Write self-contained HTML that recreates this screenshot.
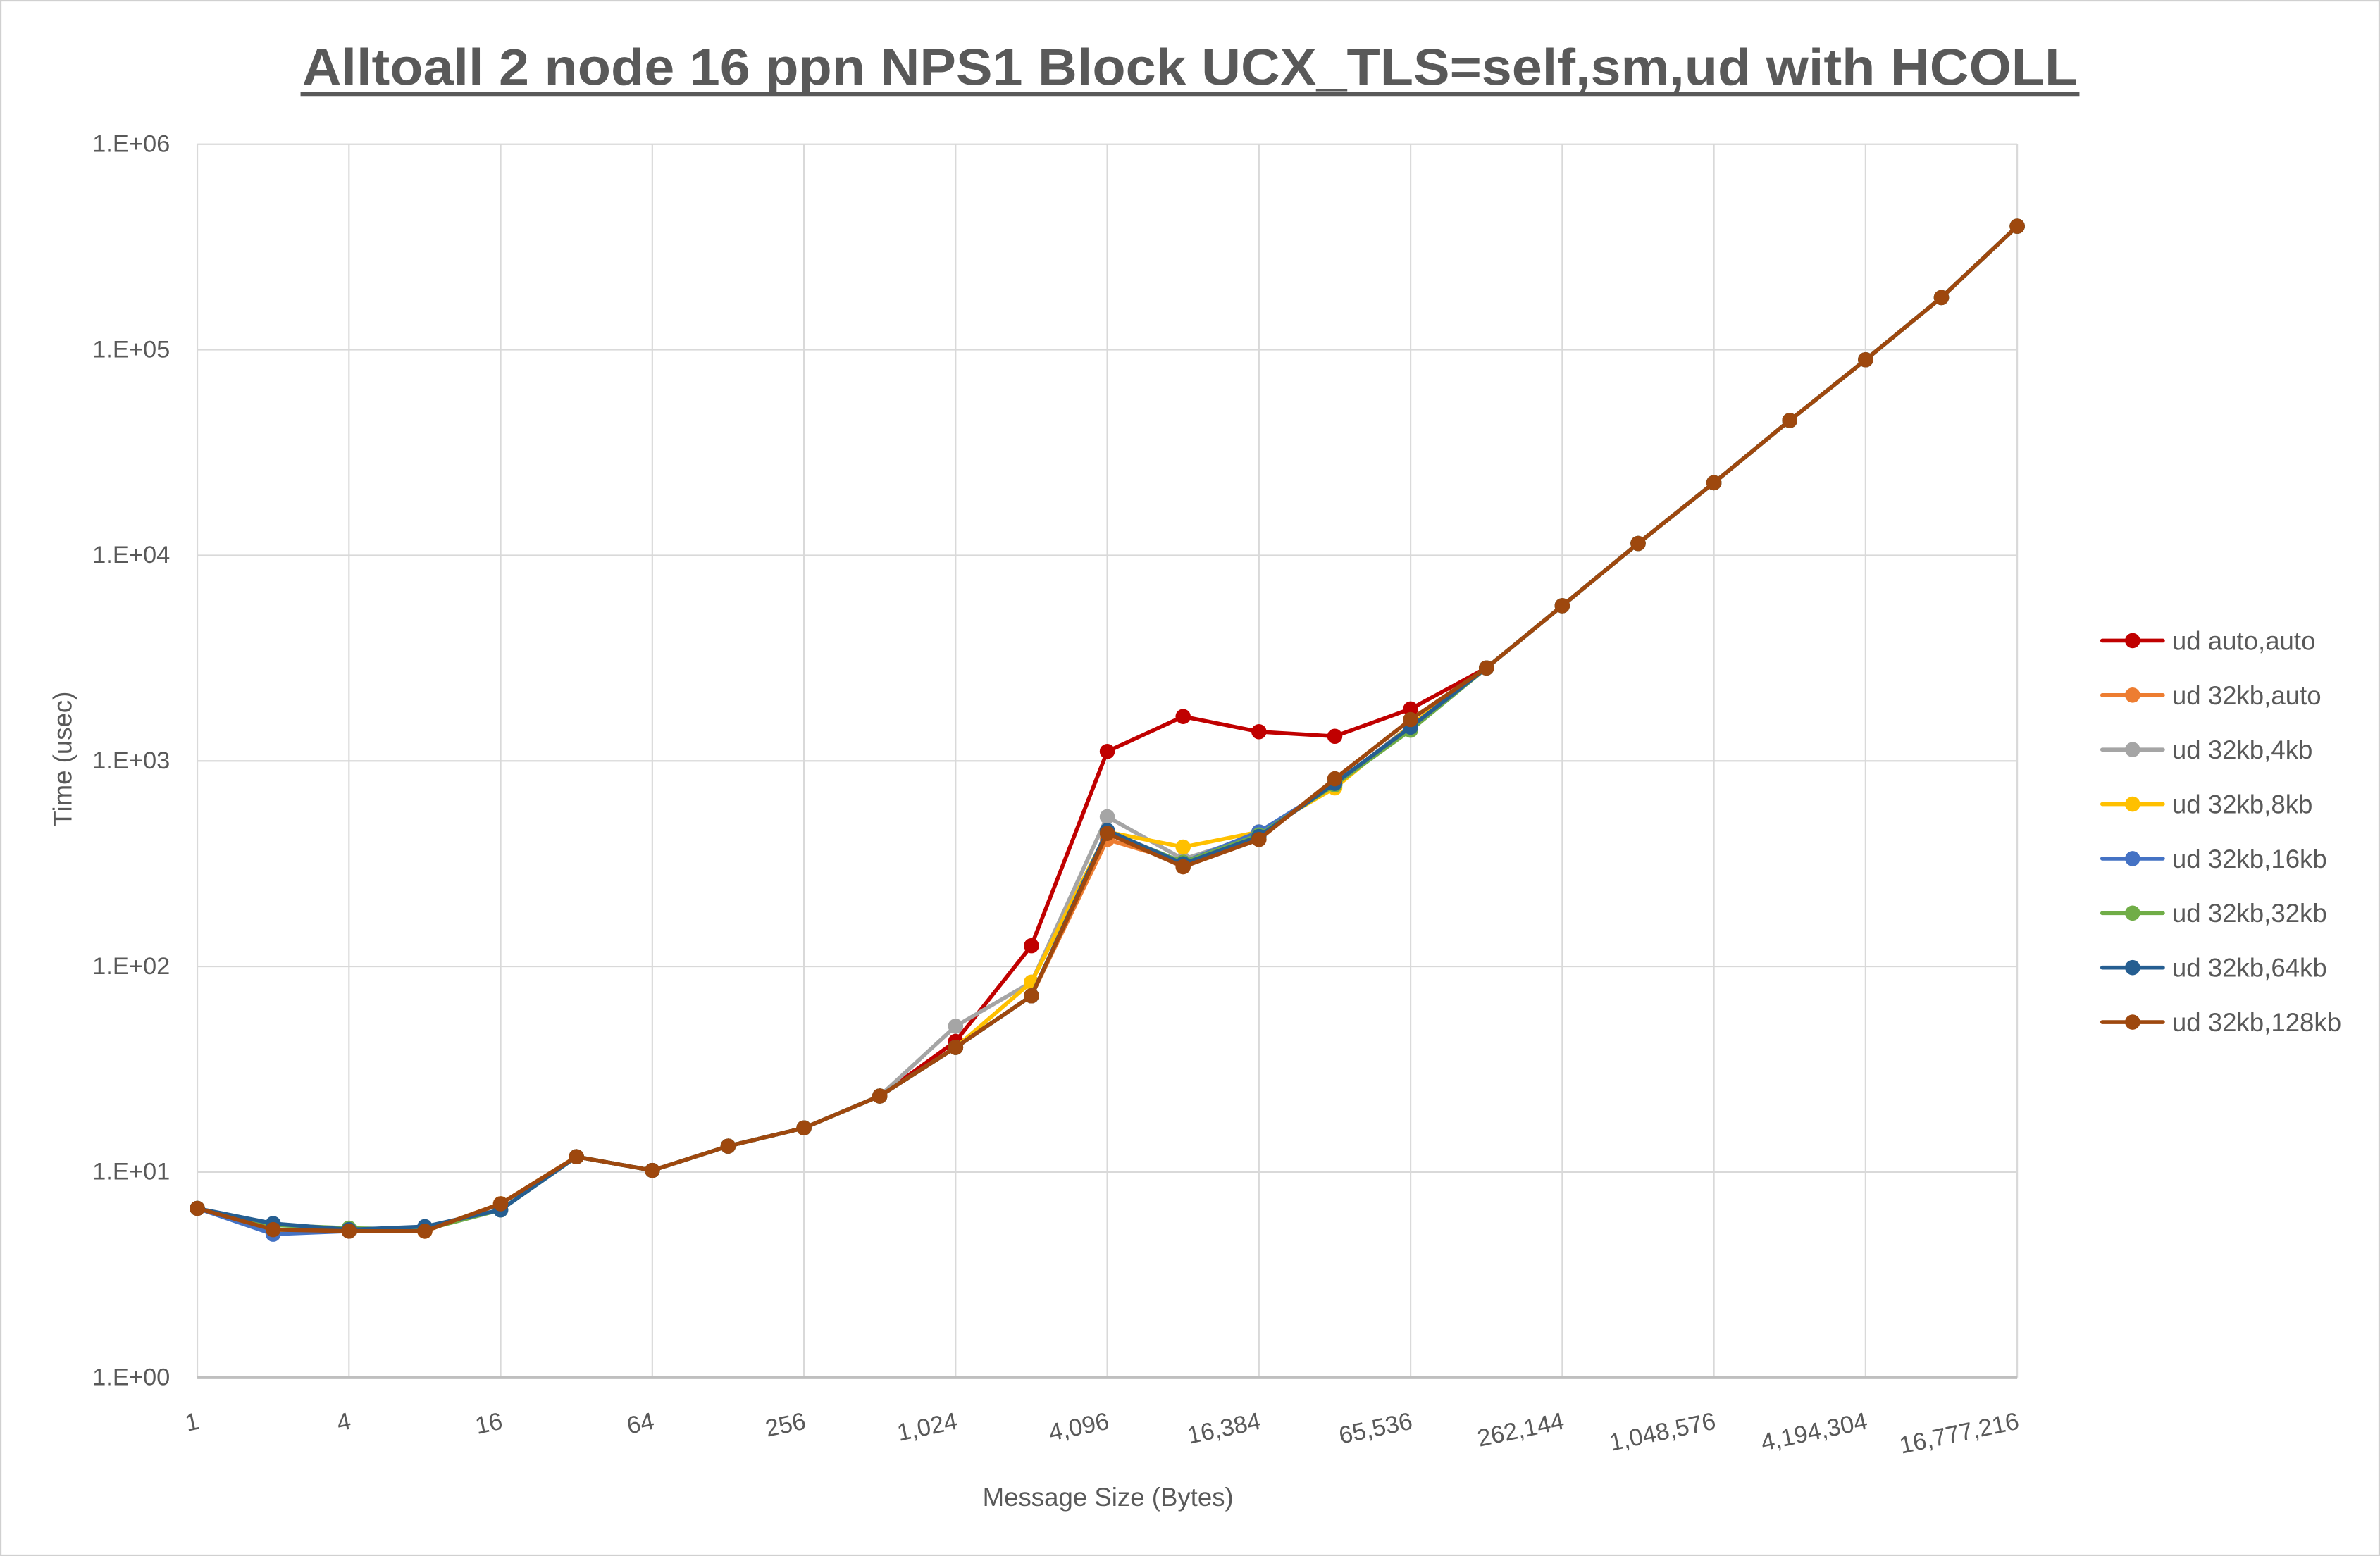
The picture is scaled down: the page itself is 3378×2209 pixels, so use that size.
<!DOCTYPE html>
<html><head><meta charset="utf-8"><style>
html,body{margin:0;padding:0;background:#fff}
svg{display:block}
text{font-family:"Liberation Sans",sans-serif}
</style></head><body>
<svg id="c" width="3378" height="2209" viewBox="0 0 1568 1025" preserveAspectRatio="none" xmlns="http://www.w3.org/2000/svg">
<rect x="0.5" y="0.5" width="1567" height="1024" fill="#fff" stroke="#d0d0d0" stroke-width="1"/>
<text x="784" y="56" text-anchor="middle" font-size="34" font-weight="bold" fill="#595959" textLength="1170" lengthAdjust="spacingAndGlyphs">Alltoall 2 node 16 ppn NPS1 Block UCX_TLS=self,sm,ud with HCOLL</text>
<line x1="198" y1="62" x2="1370" y2="62" stroke="#595959" stroke-width="2.5"/>
<g id="grid" stroke="#d9d9d9" stroke-width="1"></g>
<line x1="130" y1="907.5" x2="1329" y2="907.5" stroke="#bfbfbf" stroke-width="2"/>
<g id="ylab" font-size="16" fill="#595959" text-anchor="end"></g>
<g id="xlab" font-size="16" fill="#595959" text-anchor="end"></g>
<text transform="translate(47,500) rotate(-90)" text-anchor="middle" font-size="17" fill="#595959">Time (usec)</text>
<text x="730" y="992" text-anchor="middle" font-size="17" fill="#595959">Message Size (Bytes)</text>
<g id="series"></g>
<g id="legend" font-size="17" fill="#595959"></g>
</svg>
<script>
var ns="http://www.w3.org/2000/svg";
function el(t,a,p,txt){var e=document.createElementNS(ns,t);for(var k in a)e.setAttribute(k,a[k]);if(txt!==undefined)e.textContent=txt;document.getElementById(p).appendChild(e);return e;}
function X(i){return 130+i*(1199/24);}
var Y0=907.5,Yt=95;function Y(d){return Y0-(Y0-Yt)*d/6;}
for(var d=0;d<=6;d++){ if(d<6) el('line',{x1:130,x2:1329,y1:Y(d+1),y2:Y(d+1)},'grid');
 el('text',{x:112,y:Y(d)+5},'ylab','1.E+0'+d);}
var xl=['1','4','16','64','256','1,024','4,096','16,384','65,536','262,144','1,048,576','4,194,304','16,777,216'];
for(var j=0;j<13;j++){var x=X(2*j); if(j>0) el('line',{x1:x,x2:x,y1:Yt,y2:Y0},'grid');
 el('text',{transform:'translate('+(x+2)+',941) rotate(-12)'},'xlab',xl[j]);}
el('line',{x1:130,x2:130,y1:Yt,y2:Y0},'grid');
var base=[796,810,811,811,793,762,771,755,743,722,690,656,549,571,553,513,474,440,399,358,318,277,237,196,149];
function mod(o){var a=base.slice();for(var k in o)a[k]=o[k];return a;}
var S=[
['ud auto,auto','#c00000',mod({10:686,11:623,12:495,13:472,14:482,15:485,16:467})],
['ud 32kb,auto','#ed7d31',mod({12:553,13:568,14:550,15:517,16:478})],
['ud 32kb,4kb','#a5a5a5',mod({10:676,11:647,12:538,13:566,14:550,15:517,16:478})],
['ud 32kb,8kb','#ffc000',mod({11:647,12:548,13:558,14:548,15:519,16:478})],
['ud 32kb,16kb','#4472c4',mod({1:813,2:811,3:809,4:797,12:548,13:568,14:548,15:517,16:480})],
['ud 32kb,32kb','#70ad47',mod({1:807,2:809,3:810,4:797,12:548,13:568,14:550,15:517,16:481})],
['ud 32kb,64kb','#255e91',mod({1:806,2:810,3:808,4:797,12:547,13:569,14:551,15:516,16:479})],
['ud 32kb,128kb','#9e480e',base]];
S.forEach(function(s,n){var pts=s[2].map(function(y,i){return X(i).toFixed(1)+','+y;}).join(' ');
 el('polyline',{points:pts,fill:'none',stroke:s[1],'stroke-width':2.6,'stroke-linejoin':'round'},'series');
 s[2].forEach(function(y,i){el('circle',{cx:X(i),cy:y,r:5,fill:s[1]},'series');});
 var ly=422+n*35.9;
 el('line',{x1:1385,x2:1425,y1:ly,y2:ly,stroke:s[1],'stroke-width':2.6,'stroke-linecap':'round'},'legend');
 el('circle',{cx:1405,cy:ly,r:5,fill:s[1]},'legend');
 el('text',{x:1431,y:ly+6},'legend',s[0]);
});
</script>
</body></html>
